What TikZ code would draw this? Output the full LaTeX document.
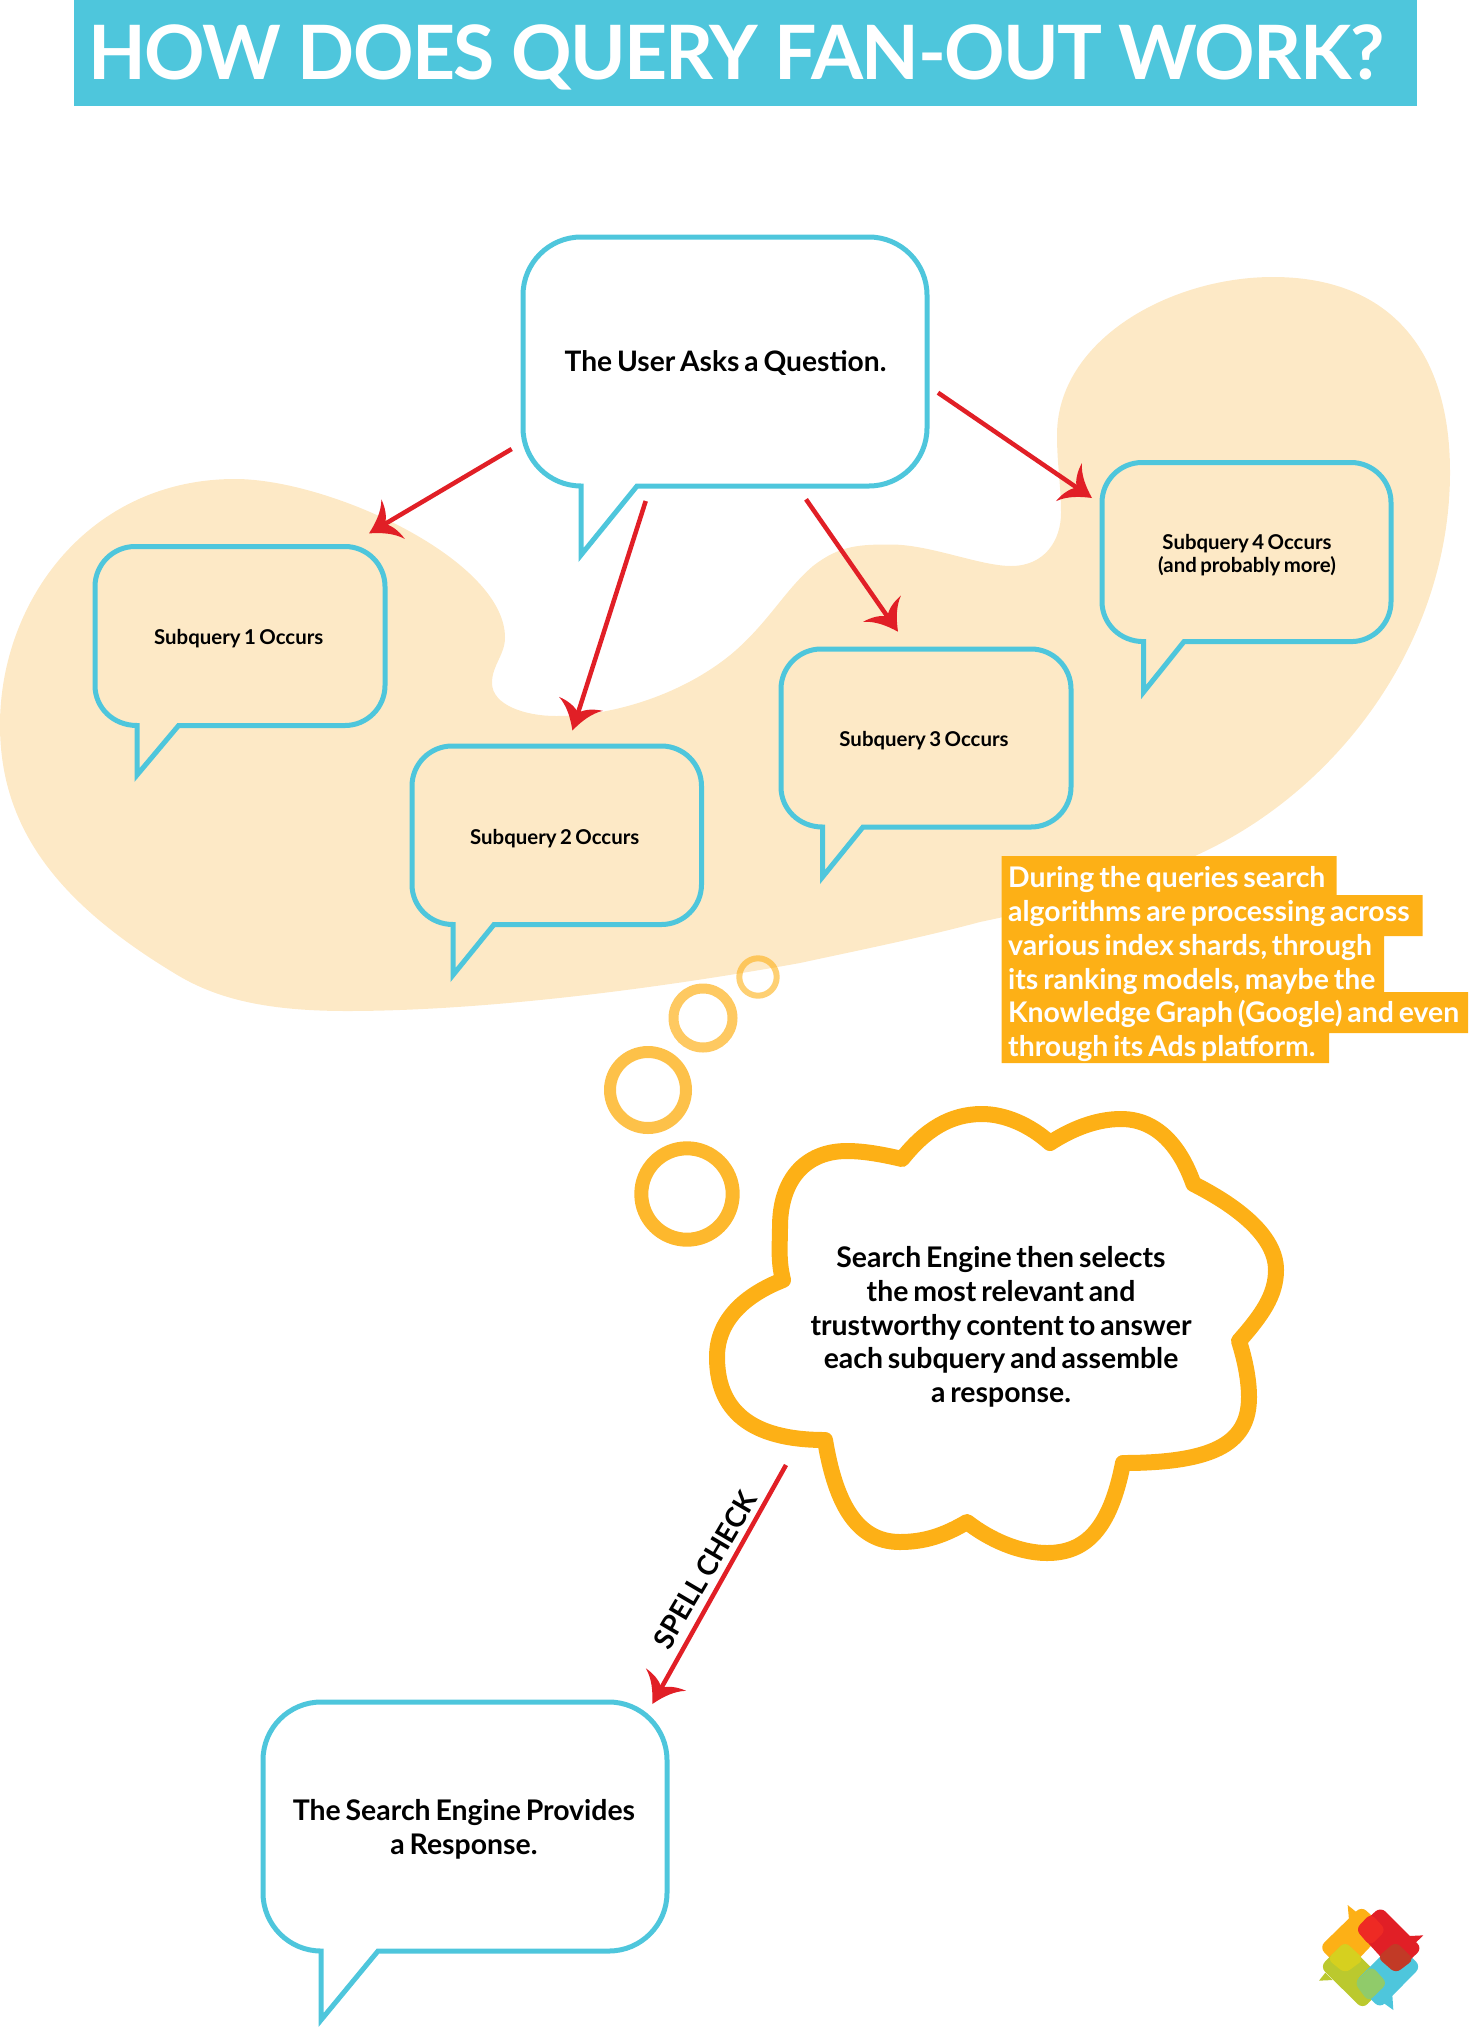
\documentclass[tikz,border=0pt]{standalone}
\usepackage{fontspec}
\setmainfont{Lato}
\newfontfamily\latotitle[LetterSpace=-2.2]{Lato Bold}
\newfontfamily\latobig{Lato Bold}
\newfontfamily\latosub[WordSpace=0.7]{Lato Bold}
\usetikzlibrary{arrows.meta}
\definecolor{cyanb}{HTML}{4EC6DC}
\definecolor{blob}{HTML}{FDE9C6}
\definecolor{orng}{HTML}{FDB016}
\definecolor{redc}{HTML}{E11F26}
\definecolor{olive}{HTML}{BBC92E}
\definecolor{ovOR}{HTML}{EE2A24}
\definecolor{ovRB}{HTML}{C23A26}
\definecolor{ovOO}{HTML}{D6D01F}
\definecolor{ovOB}{HTML}{90CB6A}
\pgfdeclarearrow{
  name=Swoop,
  setup code={
    \pgfarrowssettipend{0pt}
    \pgfarrowssetlineend{-17pt}
    \pgfarrowssetvisualbackend{-28pt}
    \pgfarrowssetbackend{-28pt}
    \pgfarrowshullpoint{0pt}{0pt}
    \pgfarrowshullpoint{-28pt}{23pt}
    \pgfarrowshullpoint{-28pt}{-23pt}
  },
  drawing code={
    \pgfpathmoveto{\pgfpoint{0pt}{0pt}}
    \pgfpathcurveto{\pgfpoint{-12pt}{6pt}}{\pgfpoint{-22pt}{13pt}}{\pgfpoint{-28pt}{23pt}}
    \pgfpathcurveto{\pgfpoint{-27pt}{13pt}}{\pgfpoint{-24pt}{6pt}}{\pgfpoint{-19pt}{0pt}}
    \pgfpathcurveto{\pgfpoint{-24pt}{-6pt}}{\pgfpoint{-27pt}{-13pt}}{\pgfpoint{-28pt}{-23pt}}
    \pgfpathcurveto{\pgfpoint{-22pt}{-13pt}}{\pgfpoint{-12pt}{-6pt}}{\pgfpoint{0pt}{0pt}}
    \pgfpathclose
    \pgfusepathqfill
  }
}
\newcommand{\spbubble}[8]{% left top right bottom tailx tipy joinx radius
  \draw[bubbleline]
    (#5,#6) -- (#7,#4) -- ({#3-#8},#4)
    .. controls ({#3-#8*.45},#4) and (#3,{#4-#8*.45}) .. (#3,{#4-#8})
    -- (#3,{#2+#8})
    .. controls (#3,{#2+#8*.45}) and ({#3-#8*.45},#2) .. ({#3-#8},#2)
    -- ({#1+#8},#2)
    .. controls ({#1+#8*.45},#2) and (#1,{#2+#8*.45}) .. (#1,{#2+#8})
    -- (#1,{#4-#8})
    .. controls (#1,{#4-#8*.45}) and ({#1+#8*.45},#4) .. (#5,#4)
    -- cycle;
}
\tikzset{
  bubbleline/.style={draw=cyanb,line width=5pt,miter limit=10},
  conn/.style={draw=redc,color=redc,line width=4.5pt,-{Swoop}},
  bigtxt/.style={font=\fontsize{28.4}{33.75}\selectfont\latobig,align=center,inner sep=0pt,text=black},
  subtxt/.style={font=\fontsize{20.4}{23}\selectfont\latosub,align=center,inner sep=0pt,text=black},
}
\begin{document}
\begin{tikzpicture}[x=1pt,y=-1pt]
\useasboundingbox (0,0) rectangle (1469,2029);
% title
\fill[cyanb] (74,0) rectangle (1417,106);
\node[anchor=base west,inner sep=0pt,text=white,font=\fontsize{75}{80}\selectfont\latotitle] (title) at (88,79) {HOW DOES QUERY FAN-OUT WORK?};
% blob
\fill[blob] (1273,277) .. controls (1385,277) and (1450,345) .. (1450,472)
 .. controls (1450,640) and (1340,790) .. (1197,855)
 .. controls (1130,890) and (1060,905) .. (980,922)
 .. controls (920,938) and (860,950) .. (800,963)
 .. controls (650,990) and (480,1011) .. (347,1011)
 .. controls (270,1011) and (220,1000) .. (179,976)
 .. controls (60,905) and (0,830) .. (0,725)
 .. controls (0,600) and (90,479) .. (235,479)
 .. controls (330,479) and (505,560) .. (505,637.5)
 .. controls (505,655) and (492,665) .. (492,683)
 .. controls (492,705) and (525,716) .. (556,716)
 .. controls (620,716) and (690,690) .. (735,651)
 .. controls (770,620) and (785,590) .. (813,566)
 .. controls (840,545) and (860,544.5) .. (891,544.5)
 .. controls (930,544.5) and (980,566) .. (1011,566)
 .. controls (1045,566) and (1061,540) .. (1061,513)
 .. controls (1061,485) and (1057,465) .. (1057,435)
 .. controls (1057,340) and (1170,277) .. (1273,277) -- cycle;
% bubbles
\spbubble{523}{237}{927}{486}{581}{555}{637}{58}
\node[bigtxt,font=\fontsize{28.2}{33.75}\selectfont\latobig] (user) at (725.5,363.5) {The User Asks a Question.};
\spbubble{95}{546.5}{385}{725.5}{137}{775}{178.6}{40}
\node[subtxt] (s1) at (238.7,638.5) {Subquery 1 Occurs};
\spbubble{412}{746}{701.5}{924.5}{453}{975}{494}{40}
\node[subtxt] (s2) at (554.7,838.5) {Subquery 2 Occurs};
\spbubble{781}{649}{1071}{827}{822.5}{877}{863}{40}
\node[subtxt] (s3) at (924,740.5) {Subquery 3 Occurs};
\spbubble{1102}{462.5}{1391}{641.6}{1143.6}{692}{1184}{40}
\node[subtxt] (s4) at (1247,555.5) {Subquery 4 Occurs\\(and probably more)};
\spbubble{263}{1702}{667}{1951}{321}{2020}{378}{58}
\node[bigtxt] (final) at (464,1829) {The Search Engine Provides\\a Response.};
% arrows
\coordinate (a1s) at (511.7,449); \coordinate (a1e) at (369,533.4);
\coordinate (a2s) at (645.7,501); \coordinate (a2e) at (572.4,730.5);
\coordinate (a3s) at (806,499.3); \coordinate (a3e) at (898,631.7);
\coordinate (a4s) at (938,392.7); \coordinate (a4e) at (1092,498);
\coordinate (a5s) at (786,1465); \coordinate (a5e) at (652.3,1704);
\draw[conn] (a1s) -- (a1e);
\draw[conn] (a2s) -- (a2e);
\draw[conn] (a3s) -- (a3e);
\draw[conn] (a4s) -- (a4e);
\draw[conn] (a5s) -- (a5e);
\node[rotate=59.5,inner sep=0pt,font=\fontsize{28}{30}\selectfont\latobig,text=black] (spell) at (705,1570) {SPELL CHECK};
% orange note
\fill[orng] (1001.7,856) -- (1336.7,856) -- (1336.7,895) -- (1422.7,895) -- (1422.7,936) -- (1384,936) -- (1384,992) -- (1468,992) -- (1468,1033) -- (1329,1033) -- (1329,1063) -- (1001.7,1063) -- cycle;
\node[anchor=north west,inner sep=0pt,align=left,text=white,font=\fontsize{28.4}{33.75}\selectfont\latobig] (note) at (1008,866.5)
 {During the queries search\\algorithms are processing across\\various index shards, through\\its ranking models, maybe the\\Knowledge Graph (Google) and even\\through its Ads platform.};
% thought rings
\draw[orng,opacity=.6,line width=6pt] (758,977) circle (18.7);
\draw[orng,opacity=.68,line width=10pt] (703,1018) circle (29.5);
\draw[orng,opacity=.78,line width=12pt] (648,1090) circle (38);
\draw[orng,opacity=.9,line width=14pt] (687,1194) circle (45.7);
% cloud
\draw[orng,line width=16pt,line join=round]
 (902,1159) .. controls (925,1130) and (950,1114) .. (982,1114)
 .. controls (1005,1114) and (1030,1125) .. (1050,1143)
 .. controls (1070,1130) and (1095,1119) .. (1121,1119)
 .. controls (1165,1119) and (1185,1160) .. (1193.5,1184)
 .. controls (1235,1205) and (1276,1235) .. (1276,1270)
 .. controls (1276,1295) and (1262,1315) .. (1239,1341)
 .. controls (1245,1360) and (1249,1380) .. (1249,1397)
 .. controls (1249,1440) and (1220,1463) .. (1123,1463)
 .. controls (1110,1530) and (1085,1553) .. (1047,1553)
 .. controls (1020,1553) and (990,1540) .. (967,1522)
 .. controls (945,1535) and (925,1542) .. (900,1542)
 .. controls (855,1542) and (835,1500) .. (825,1440)
 .. controls (750,1440) and (717,1410) .. (717,1357)
 .. controls (717,1320) and (745,1295) .. (783,1280)
 .. controls (778,1260) and (780,1245) .. (780,1227)
 .. controls (780,1180) and (805,1151) .. (847,1151)
 .. controls (865,1151) and (885,1155) .. (902,1159) -- cycle;
\node[bigtxt] (cloudtxt) at (1001,1327) {Search Engine then selects\\the most relevant and\\trustworthy content to answer\\each subquery and assemble\\a response.};
% logo
\begin{scope}[shift={(1250,1860)},x=1/3*1pt,y=-1/3*1pt]
\fill[orng,rounded corners=7pt] (208,262) -- (335,138) -- (408,210) -- (285,340) -- cycle;
\fill[orng] (293,135) -- (297,180) -- (320,157) -- cycle;
\fill[redc] (520,226) -- (478,228) -- (497,248) -- cycle;
\fill[olive,rounded corners=7pt] (210,320) -- (285,245) -- (412,370) -- (338,447) -- cycle;
\fill[olive] (207,362) -- (226,338) -- (248,360) -- cycle;
\fill[cyanb,rounded corners=7pt] (313,368) -- (437,243) -- (513,320) -- (390,445) -- cycle;
\fill[cyanb] (430,450) -- (427,405) -- (402,430) -- cycle;
\fill[redc,rounded corners=7pt] (317,208) -- (392,140) -- (517,265) -- (437,340) -- cycle;
\fill[ovOR,rounded corners=6pt] (317,208) -- (362,160) -- (408,210) -- (360,258) -- cycle;
\fill[ovRB,rounded corners=6pt] (382,292) -- (437,245) -- (492,298) -- (437,340) -- cycle;
\fill[ovOO,rounded corners=6pt] (232,297) -- (285,245) -- (342,298) -- (285,340) -- cycle;
\fill[ovOB,rounded corners=6pt] (313,368) -- (365,318) -- (412,370) -- (355,425) -- cycle;
\end{scope}
\end{tikzpicture}
\end{document}
